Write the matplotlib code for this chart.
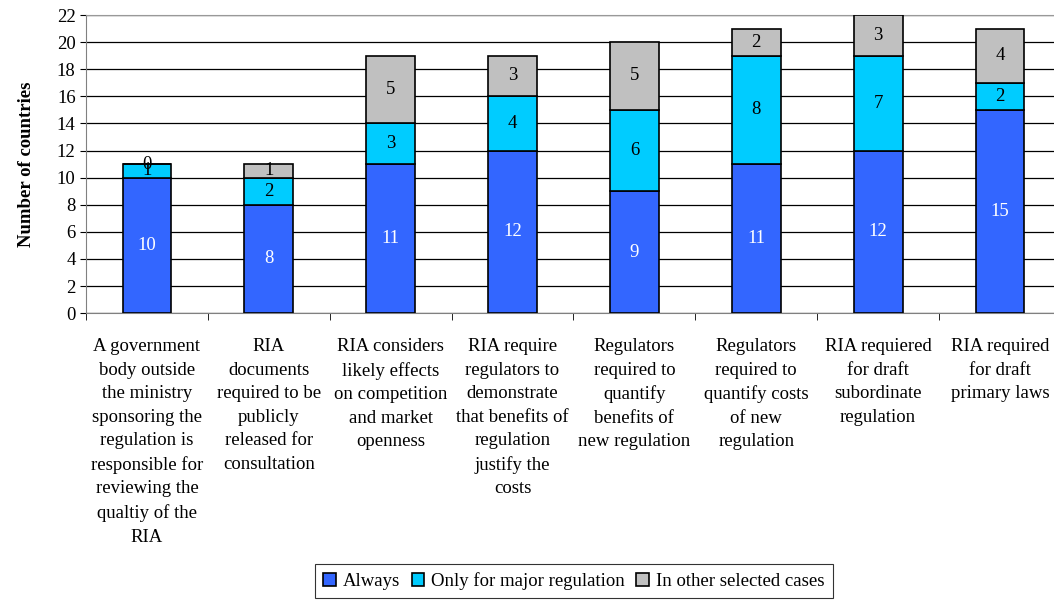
import numpy as np
import matplotlib
matplotlib.use('Agg')
import matplotlib.pyplot as plt

plt.rcParams['font.family'] = ['Liberation Serif', 'DejaVu Serif']

# datos del grafico
categorias = [
    "A government\nbody outside\nthe ministry\nsponsoring the\nregulation is\nresponsible for\nreviewing the\nqualtiy of the\nRIA",
    "RIA\ndocuments\nrequired to be\npublicly\nreleased for\nconsultation",
    "RIA considers\nlikely effects\non competition\nand market\nopenness",
    "RIA require\nregulators to\ndemonstrate\nthat benefits of\nregulation\njustify the\ncosts",
    "Regulators\nrequired to\nquantify\nbenefits of\nnew regulation",
    "Regulators\nrequired to\nquantify costs\nof new\nregulation",
    "RIA requiered\nfor draft\nsubordinate\nregulation",
    "RIA required\nfor draft\nprimary laws",
]
siempre = [10, 8, 11, 12, 9, 11, 12, 15]
solo_mayor = [1, 2, 3, 4, 6, 8, 7, 2]
otros_casos = [0, 1, 5, 3, 5, 2, 3, 4]
series_nombres = ["Always", "Only for major regulation", "In other selected cases"]
colores = ["#3366FF", "#00CCFF", "#C0C0C0"]
color_texto = ["white", "black", "black"]

fs = 13.5
fig = plt.figure(figsize=(10.54, 6.01), dpi=100)
ax = fig.add_axes([0.0816, 0.479, 0.925, 0.496])

x = np.arange(len(categorias))
base = np.zeros(len(categorias))
for serie, nombre, col, ct in zip([siempre, solo_mayor, otros_casos], series_nombres, colores, color_texto):
    vals = np.array(serie, dtype=float)
    ax.bar(x, vals, 0.4, bottom=base, color=col, edgecolor='black', linewidth=1.2, label=nombre, zorder=3)
    for xi, b, v in zip(x, base, vals):
        ax.text(xi, b + v / 2, str(int(v)), ha='center', va='center', color=ct, fontsize=fs, zorder=4)
    base = base + vals

ax.set_xlim(-0.5, len(categorias) - 0.5)
ax.set_ylim(0, 22)
ax.set_yticks(range(0, 23, 2))
ax.yaxis.grid(True, color='black', linewidth=0.9, zorder=0)
ax.tick_params(axis='y', labelsize=fs, length=4, direction='out')
ax.set_xticks(x)
ax.set_xticklabels(categorias, fontsize=fs, linespacing=1.5, va='top')
ax.tick_params(axis='x', which='major', length=0, pad=18)
ax.set_xticks(np.arange(-0.5, len(categorias)), minor=True)
ax.tick_params(axis='x', which='minor', length=5, color='black')
ax.spines['top'].set_color('#999999')
ax.spines['right'].set_visible(False)
ax.spines['left'].set_color('#808080')
ax.spines['bottom'].set_color('#808080')
ax.set_ylabel("Number of countries", fontsize=fs, fontweight='bold', labelpad=16)

leg = ax.legend(loc='center', bbox_to_anchor=(574 / 1054, 1 - 581 / 601), bbox_transform=fig.transFigure,
                ncol=3, frameon=True, fancybox=False, edgecolor='black', fontsize=fs,
                handlelength=0.65, handleheight=0.65, handletextpad=0.4, columnspacing=0.6, borderpad=0.45)
leg.get_frame().set_linewidth(0.8)

fig.savefig('out.png', dpi=100)
